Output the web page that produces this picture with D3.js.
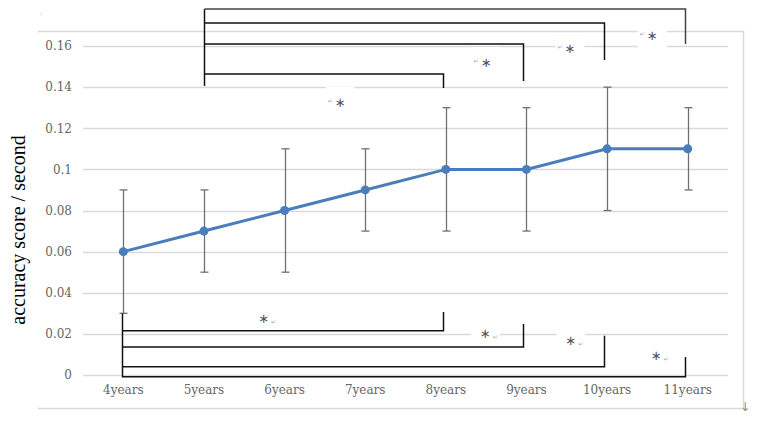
<!DOCTYPE html>
<html>
<head>
<meta charset="utf-8">
<script src="https://cdn.jsdelivr.net/npm/d3@7"></script>
<style>
  body { margin: 0; background: #fff; }
  svg { display: block; }
</style>
</head>
<body>
<div id="chart"></div>
<script>
const AGES = ["4years", "5years", "6years", "7years", "8years", "9years", "10years", "11years"];
const MEANS = [0.06, 0.07, 0.08, 0.09, 0.10, 0.10, 0.11, 0.11];
const LOWER = [0.03, 0.05, 0.05, 0.07, 0.07, 0.07, 0.08, 0.09];
const UPPER = [0.09, 0.09, 0.11, 0.11, 0.13, 0.13, 0.14, 0.13];
const Y_TICKS = [0, 0.02, 0.04, 0.06, 0.08, 0.1, 0.12, 0.14, 0.16];

// significance brackets: 5years vs 8..11 (above), 4years vs 8..11 (below)
const TOP_TO = ["8years", "9years", "10years", "11years"];
const TOP_BAR = [0.1464, 0.161, 0.1712, 0.178];
const TOP_LEG = [0.1396, 0.143, 0.1532, 0.161];
const TOP_STAR_X = [2.69, 4.5, 5.54, 6.56];
const TOP_STAR_Y = [0.1323, 0.1518, 0.1586, 0.165];

const BOT_TO = ["8years", "9years", "10years", "11years"];
const BOT_BAR = [0.0215, 0.0136, 0.004, -0.0008];
const BOT_LEG = [0.0306, 0.0248, 0.0191, 0.0088];
const BOT_STAR_X = [1.74, 4.49, 5.55, 6.61];
const BOT_STAR_Y = [0.0277, 0.0204, 0.017, 0.0097];

var width = 757, height = 436;
var plot = {left: 83, right: 728, top: 46, bottom: 375};

var svg = d3.select("#chart")
  .append("svg")
  .attr("width", width)
  .attr("height", height);

var x = d3.scaleBand()
  .domain(AGES)
  .range([plot.left, plot.right]);

var xi = d3.scaleLinear()
  .domain([0, AGES.length - 1])
  .range([x(AGES[0]) + x.bandwidth() / 2, x(AGES[AGES.length - 1]) + x.bandwidth() / 2]);

var y = d3.scaleLinear()
  .domain([0, 0.16])
  .range([plot.bottom, plot.top]);

var cx = function(d) { return x(d) + x.bandwidth() / 2; };

// outer frame (top, right, bottom)
svg.append("path")
  .attr("d", "M38,31.5H743.5V408.5H38")
  .attr("fill", "none")
  .attr("stroke", "#d9d9d9")
  .attr("stroke-width", 1.5);

// gridlines
svg.append("g").selectAll("line")
  .data(Y_TICKS)
  .enter()
  .append("line")
  .attr("x1", plot.left)
  .attr("x2", plot.right)
  .attr("y1", function(d) { return Math.round(y(d)) + 0.5; })
  .attr("y2", function(d) { return Math.round(y(d)) + 0.5; })
  .attr("stroke", "#d9d9d9")
  .attr("stroke-width", 1.3);

// y axis labels
var yAxis = d3.axisLeft(y)
  .tickValues(Y_TICKS)
  .tickSize(0)
  .tickPadding(0)
  .tickFormat(function(d) { return d === 0 ? "0" : String(+d.toFixed(2)); });

var yg = svg.append("g")
  .attr("transform", "translate(72,0)")
  .call(yAxis);
yg.select(".domain").remove();
yg.selectAll("text")
  .attr("font-family", "DejaVu Serif")
  .attr("font-size", 12)
  .attr("fill", "#666");

// x axis labels
var xAxis = d3.axisBottom(x).tickSize(0).tickPadding(0);
var xg = svg.append("g")
  .attr("transform", "translate(0,385)")
  .call(xAxis);
xg.select(".domain").remove();
xg.selectAll("text")
  .attr("font-family", "DejaVu Serif")
  .attr("font-size", 12)
  .attr("fill", "#666");

// y title
svg.append("text")
  .attr("transform", "translate(25,230) rotate(-90)")
  .attr("text-anchor", "middle")
  .attr("font-family", "Liberation Serif")
  .attr("font-size", 20)
  .attr("fill", "#000")
  .text("accuracy score / second");

// error bars
var err = svg.append("g")
  .attr("stroke", "#707070")
  .attr("stroke-width", 1.3);

AGES.forEach(function(a, i) {
  var px = Math.round(cx(a)) + 0.5;
  err.append("line").attr("x1", px).attr("x2", px).attr("y1", y(LOWER[i])).attr("y2", y(UPPER[i]));
  err.append("line").attr("x1", px - 4).attr("x2", px + 4).attr("y1", y(LOWER[i])).attr("y2", y(LOWER[i]));
  err.append("line").attr("x1", px - 4).attr("x2", px + 4).attr("y1", y(UPPER[i])).attr("y2", y(UPPER[i]));
});

// mean line
var line = d3.line()
  .x(function(d, i) { return cx(AGES[i]); })
  .y(function(d) { return y(d); });

svg.append("path")
  .datum(MEANS)
  .attr("d", line)
  .attr("fill", "none")
  .attr("stroke", "#4a7ebb")
  .attr("stroke-width", 3);

svg.append("g").selectAll("circle")
  .data(MEANS)
  .enter()
  .append("circle")
  .attr("cx", function(d, i) { return cx(AGES[i]); })
  .attr("cy", function(d) { return y(d); })
  .attr("r", 4.5)
  .attr("fill", "#4a7ebb");

// white label boxes behind the asterisks
function starBoxes(xs, ys, w, h) {
  svg.append("g").selectAll("rect")
    .data(xs)
    .enter()
    .append("rect")
    .attr("x", function(d) { return xi(d) - w / 2; })
    .attr("y", function(d, i) { return y(ys[i]) - h / 2; })
    .attr("width", w)
    .attr("height", h)
    .attr("fill", "#fff");
}
starBoxes(TOP_STAR_X, TOP_STAR_Y, 29, 32);
starBoxes(BOT_STAR_X, BOT_STAR_Y, 29, 26);

// brackets
var br = svg.append("g")
  .attr("fill", "none")
  .attr("stroke", "#111")
  .attr("stroke-width", 1.5);

var topX0 = Math.round(cx("5years")) + 0.5;
br.append("line")
  .attr("x1", topX0).attr("x2", topX0)
  .attr("y1", y(d3.max(TOP_BAR))).attr("y2", y(TOP_LEG[0]) - 2);
TOP_TO.forEach(function(a, i) {
  var x1 = Math.round(cx(a)) - 2.5;
  br.append("path")
    .attr("d", "M" + topX0 + "," + y(TOP_BAR[i]) + "H" + x1 + "V" + y(TOP_LEG[i]))
    .attr("stroke", i === 3 ? "#444" : "#111");
});

var botX0 = Math.round(cx("4years")) - 0.5;
br.append("line")
  .attr("x1", botX0).attr("x2", botX0)
  .attr("y1", y(LOWER[0])).attr("y2", y(d3.min(BOT_BAR)) + 0.7);
BOT_TO.forEach(function(a, i) {
  var x1 = Math.round(cx(a)) - 2.5;
  br.append("path")
    .attr("d", "M" + botX0 + "," + y(BOT_BAR[i]) + "H" + x1 + "V" + y(BOT_LEG[i]));
});

// asterisks
function stars(xs, ys, markBefore) {
  var g = svg.append("g");
  xs.forEach(function(d, i) {
    var px = xi(d), py = y(ys[i]);
    g.append("text")
      .attr("x", px)
      .attr("y", py)
      .attr("text-anchor", "middle")
      .attr("dominant-baseline", "central")
      .attr("font-family", "DejaVu Sans")
      .attr("font-size", 13)
      .attr("fill", "#555")
      .text("∗");
    g.append("text")
      .attr("x", markBefore ? px - 10 : px + 10)
      .attr("y", py + (markBefore ? -2 : 3))
      .attr("text-anchor", "middle")
      .attr("dominant-baseline", "central")
      .attr("font-family", "DejaVu Sans")
      .attr("font-size", 6)
      .attr("fill", "#aaa")
      .text("↵");
  });
}
stars(TOP_STAR_X, TOP_STAR_Y, true);
stars(BOT_STAR_X, BOT_STAR_Y, false);

// small anchor marks
svg.append("text")
  .attr("x", 40).attr("y", 18)
  .attr("font-family", "DejaVu Sans")
  .attr("font-size", 7)
  .attr("fill", "#bbb")
  .text("ˀ");
svg.append("text")
  .attr("x", 745).attr("y", 411)
  .attr("text-anchor", "middle")
  .attr("font-family", "DejaVu Sans")
  .attr("font-size", 12)
  .attr("fill", "#888")
  .text("↓");
</script>
</body>
</html>
